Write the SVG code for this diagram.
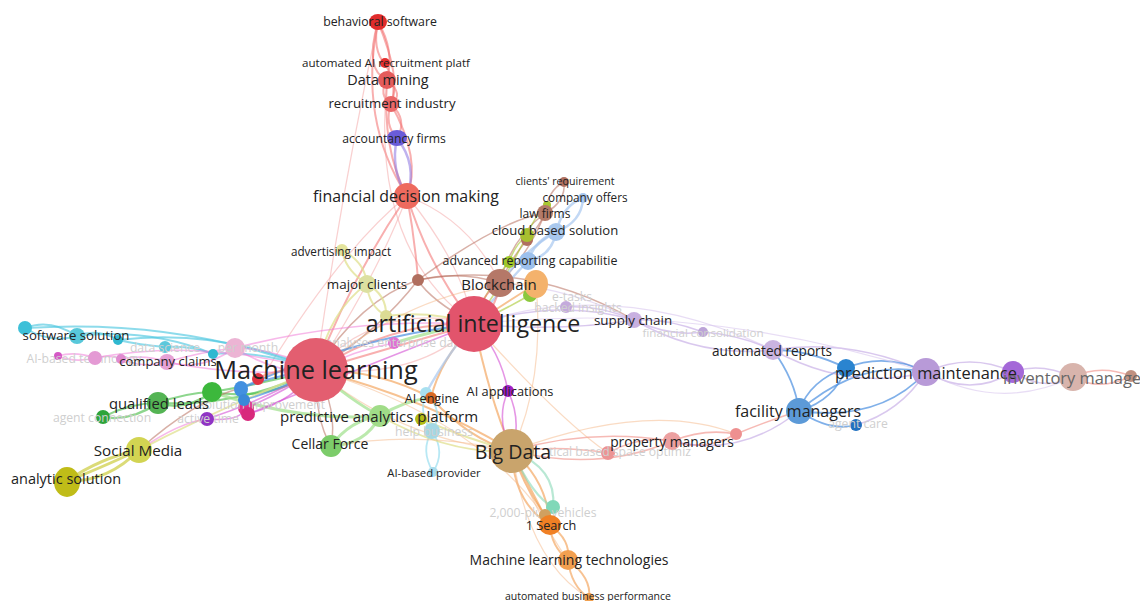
<svg xmlns="http://www.w3.org/2000/svg" width="1140" height="601" viewBox="0 0 1140 601">
  <style>
    text { font-family: "Open Sans", "Noto Sans", sans-serif; fill: #222; text-anchor: middle; dominant-baseline: central; }
    text.faint { fill: #cfcfcf; font-size: 12.2px; }
    text.grey { fill: #666; text-anchor: start; }
    #edges path { fill: none; stroke-linecap: round; }
    .red { stroke: #f26d6d; stroke-opacity: .55; stroke-width: 2; }
    .redf { stroke: #f4a2a2; stroke-opacity: .5; stroke-width: 1.2; }
    .pur { stroke: #8a72e0; stroke-opacity: .55; stroke-width: 2.5; }
    .brn { stroke: #b8705f; stroke-opacity: .55; stroke-width: 1.5; }
    .org { stroke: #f29a4a; stroke-opacity: .6; stroke-width: 2; }
    .orgf { stroke: #f6b888; stroke-opacity: .5; stroke-width: 1.2; }
    .lbl { stroke: #a8c8f0; stroke-opacity: .7; stroke-width: 2.5; }
    .ygr { stroke: #a8c830; stroke-opacity: .6; stroke-width: 1.6; }
    .lav { stroke: #b99ae0; stroke-opacity: .55; stroke-width: 1.5; }
    .lavf { stroke: #d8c6ee; stroke-opacity: .6; stroke-width: 1.2; }
    .blu { stroke: #4a8ee0; stroke-opacity: .7; stroke-width: 1.8; }
    .sal { stroke: #f08c84; stroke-opacity: .6; stroke-width: 1.6; }
    .cya { stroke: #50c8e0; stroke-opacity: .65; stroke-width: 2; }
    .pnk { stroke: #f080d8; stroke-opacity: .55; stroke-width: 1.6; }
    .grn { stroke: #50c050; stroke-opacity: .65; stroke-width: 2.2; }
    .lgr { stroke: #9ee08a; stroke-opacity: .7; stroke-width: 3; }
    .olv { stroke: #c8c830; stroke-opacity: .65; stroke-width: 3; }
    .pyl { stroke: #e0e090; stroke-opacity: .75; stroke-width: 2; }
    .mag { stroke: #d040d0; stroke-opacity: .55; stroke-width: 1.6; }
    .tea { stroke: #8ad8b8; stroke-opacity: .6; stroke-width: 2.2; }
    .lcy { stroke: #a0e0f0; stroke-opacity: .75; stroke-width: 1.8; }
  </style>

  <rect width="1140" height="601" fill="#ffffff"/>

  <!-- connectors -->
  <g id="edges">
    <!-- recruitment / data mining chain -->
    <path class="red" d="M378,22 Q395,50 387,80"/>
    <path class="red" d="M378,22 Q372,50 385,64"/>
    <path class="red" d="M378,22 Q402,80 391,104"/>
    <path class="red" d="M378,22 Q364,70 387,80"/>
    <path class="red" d="M385,64 Q398,85 391,104"/>
    <path class="red" d="M387,80 Q378,95 391,104"/>
    <path class="red" d="M387,80 Q405,95 391,104"/>
    <path class="red" d="M391,104 Q384,125 397,138"/>
    <path class="red" d="M391,104 Q408,120 397,138"/>
    <path class="red" d="M378,22 Q358,120 407,196"/>
    <path class="red" d="M387,80 Q382,150 407,196"/>
    <path class="red" d="M391,104 Q422,160 407,196"/>
    <path class="pur" d="M397,138 Q390,170 407,196"/>
    <path class="pur" d="M397,138 Q418,165 407,196"/>
    <path class="redf" d="M378,22 Q340,200 316,370"/>
    <path class="redf" d="M387,80 Q370,250 474,324"/>
    <path class="red" d="M407,196 Q350,280 316,370"/>
    <path class="red" d="M407,196 Q430,270 474,324"/>
    <path class="redf" d="M407,196 Q380,270 316,370"/>
    <path class="red" d="M407,196 Q415,240 418,280"/>
    <path class="redf" d="M407,196 Q470,220 500,283"/>
    <path class="redf" d="M407,196 Q340,250 262,378"/>
    <path class="redf" d="M407,196 Q460,260 474,324"/>

    <!-- core links -->
    <path class="red" d="M316,370 Q395,320 474,324" stroke-width="4"/>
    <path class="red" d="M316,370 Q400,345 474,324" stroke-width="3"/>
    <path class="redf" d="M316,370 Q380,300 474,324"/>
    <path class="redf" d="M316,370 Q420,380 474,324"/>
    <path class="brn" d="M316,370 Q360,300 418,280"/>
    <path class="brn" d="M474,324 Q430,300 418,280"/>
    <path class="brn" d="M418,280 Q460,270 500,283"/>
    <path class="brn" d="M418,280 Q530,260 634,320" stroke-opacity=".3"/>
    <path class="brn" d="M418,280 Q500,220 545,213"/>
    <path class="brn" d="M418,280 Q380,330 316,370"/>

    <path class="org" d="M316,370 Q430,400 512,451"/>
    <path class="orgf" d="M316,370 Q400,440 512,451"/>
    <path class="org" d="M474,324 Q490,400 512,451"/>
    <path class="mag" d="M474,324 Q500,350 508,391"/>
    <path class="mag" d="M508,391 Q495,420 512,451"/>
    <path class="mag" d="M508,391 Q522,420 512,451"/>
    <path class="org" d="M316,370 Q380,370 431,398"/>
    <path class="org" d="M474,324 Q440,360 431,398"/>
    <path class="org" d="M431,398 Q470,440 512,451"/>
    <path class="lcy" d="M426,393 Q418,415 432,431"/>
    <path class="lcy" d="M426,393 Q445,412 432,431"/>
    <path class="lcy" d="M432,431 Q420,450 433,472"/>
    <path class="lcy" d="M432,431 Q446,452 433,472"/>
    <path class="lbl" d="M426,393 Q450,350 474,324" stroke-width="1.5"/>
    <path class="lgr" d="M380,416 Q350,420 331,446"/>
    <path class="lgr" d="M380,416 Q365,445 331,446" stroke-width="2"/>
    <path class="lgr" d="M316,370 Q350,400 380,416" stroke-width="2"/>
    <path class="brn" d="M316,370 Q315,420 331,446" stroke="#c8a060"/>
    <path class="brn" d="M316,370 Q338,410 331,446" stroke="#c8a060"/>
    <path class="lgr" d="M380,416 Q405,400 431,398" stroke-width="1.5"/>
    <path class="pyl" d="M421,419 Q470,440 512,451" stroke="#c8c040"/>
    <path class="pyl" d="M380,416 Q450,455 512,451" stroke="#d0c860"/>
    <path class="orgf" d="M331,446 Q420,430 512,451"/>
    <path class="pyl" d="M316,370 Q330,310 367,284"/>
    <path class="pyl" d="M342,250 Q345,270 367,284"/>
    <path class="pyl" d="M342,250 Q365,262 367,284"/>
    <path class="pyl" d="M367,284 Q368,305 386,316"/>
    <path class="pyl" d="M367,284 Q387,295 386,316"/>
    <path class="pyl" d="M386,316 Q430,310 474,324"/>
    <path class="lgr" d="M394,343 Q435,330 474,324" stroke-width="1.5"/>
    <path class="pnk" d="M316,370 Q355,350 394,343"/>

    <!-- property / facility -->
    <path class="sal" d="M512,451 Q590,428 672,441"/>
    <path class="sal" d="M512,451 Q600,472 672,441"/>
    <path class="sal" d="M512,451 Q560,445 608,453"/>
    <path class="sal" d="M608,453 Q640,435 672,441"/>
    <path class="sal" d="M672,441 Q705,428 736,434"/>
    <path class="sal" d="M672,441 Q705,452 736,434"/>
    <path class="sal" d="M736,434 Q770,420 799,411"/>
    <path class="lav" d="M672,441 Q740,458 799,411"/>
    <path class="orgf" d="M512,451 Q650,400 736,434"/>
    <path class="orgf" d="M474,324 Q560,420 608,453"/>

    <path class="blu" d="M799,411 Q810,380 846,368"/>
    <path class="blu" d="M799,411 Q835,400 846,368"/>
    <path class="blu" d="M799,411 Q860,358 926,372"/>
    <path class="blu" d="M799,411 Q880,422 926,372"/>
    <path class="blu" d="M799,411 Q830,432 856,425"/>
    <path class="blu" d="M773,350 Q795,380 799,411" stroke-opacity=".35"/>
    <path class="blu" d="M773,350 Q810,350 846,368"/>
    <path class="lav" d="M773,350 Q850,338 926,372"/>
    <path class="lav" d="M773,350 Q850,392 926,372"/>
    <path class="blu" d="M846,368 Q885,352 926,372"/>
    <path class="lav" d="M926,372 Q970,352 1013,372" stroke="#b070e0" stroke-width="3"/>
    <path class="lav" d="M926,372 Q970,398 1013,372" stroke="#b070e0" stroke-width="3"/>
    <path class="lav" d="M1013,372 Q1040,362 1073,377" stroke="#c890c8" stroke-width="2.5"/>
    <path class="lav" d="M1013,372 Q1043,392 1073,377" stroke="#c890c8"/>
    <path class="sal" d="M1073,377 Q1100,364 1131,376" stroke="#e0a8a0"/>
    <path class="sal" d="M1073,377 Q1100,392 1131,376" stroke="#e0a8a0"/>
    <path class="lavf" d="M926,372 Q1000,412 1073,377"/>
    <path class="lav" d="M856,425 Q900,412 926,372" stroke="#b0a8f0"/>

    <!-- supply chain -->
    <path class="lav" d="M474,324 Q560,298 634,320"/>
    <path class="lav" d="M474,324 Q560,332 634,320"/>
    <path class="lav" d="M566,307 Q600,305 634,320"/>
    <path class="lav" d="M634,320 Q670,337 703,332"/>
    <path class="lav" d="M634,320 Q665,318 703,332"/>
    <path class="lav" d="M703,332 Q740,335 773,350"/>
    <path class="lav" d="M634,320 Q700,358 773,350"/>
    <path class="lavf" d="M474,324 Q620,276 773,350"/>
    <path class="lavf" d="M500,283 Q570,288 634,320"/>
    <path class="lavf" d="M474,324 Q700,300 926,372"/>

    <!-- blockchain cluster -->
    <path class="brn" d="M500,283 Q510,240 545,213"/>
    <path class="brn" d="M500,283 Q530,252 545,213"/>
    <path class="brn" d="M545,213 Q548,190 564,182"/>
    <path class="brn" d="M545,213 Q566,202 564,182"/>
    <path class="brn" d="M500,283 Q510,260 527,240"/>
    <path class="brn" d="M527,240 Q540,225 545,213"/>
    <path class="ygr" d="M509,262 Q515,245 527,235"/>
    <path class="ygr" d="M527,235 Q535,215 547,205"/>
    <path class="ygr" d="M474,324 Q485,290 509,262"/>
    <path class="ygr" d="M474,324 Q505,280 527,235"/>
    <path class="lbl" d="M528,261 Q535,240 556,232"/>
    <path class="lbl" d="M528,261 Q552,256 556,232"/>
    <path class="lbl" d="M556,232 Q563,205 583,198"/>
    <path class="lbl" d="M556,232 Q582,222 583,198"/>
    <path class="lbl" d="M474,324 Q500,290 528,261"/>
    <path class="lbl" d="M500,283 Q525,250 556,232" stroke-width="1.5"/>
    <path class="red" d="M474,324 Q480,295 500,283"/>
    <path class="red" d="M474,324 Q496,312 500,283"/>
    <path class="org" d="M474,324 Q510,300 536,284"/>
    <path class="orgf" d="M536,284 Q545,380 512,451"/>
    <path class="ygr" d="M474,324 Q500,312 530,295" stroke="#8cc840"/>
    <path class="orgf" d="M316,370 Q430,280 536,284"/>

    <!-- left clusters -->
    <path class="cya" d="M25,328 Q50,318 77,336"/>
    <path class="cya" d="M25,328 Q50,344 77,336"/>
    <path class="cya" d="M77,336 Q98,328 118,340"/>
    <path class="cya" d="M118,340 Q140,345 165,347"/>
    <path class="cya" d="M77,336 Q150,328 213,354" stroke-width="1.2"/>
    <path class="cya" d="M165,347 Q190,345 213,354"/>
    <path class="cya" d="M213,354 Q260,350 316,370"/>
    <path class="cya" d="M118,340 Q220,328 316,370" stroke-opacity=".35" stroke-width="1.2"/>
    <path class="cya" d="M25,328 Q180,318 316,370" stroke-opacity=".3" stroke-width="1.2"/>

    <path class="pnk" d="M58,356 Q75,351 95,358"/>
    <path class="pnk" d="M58,356 Q75,363 95,358"/>
    <path class="pnk" d="M95,358 Q108,354 121,359"/>
    <path class="pnk" d="M121,359 Q145,354 167,362"/>
    <path class="pnk" d="M121,359 Q145,369 167,362"/>
    <path class="pnk" d="M167,362 Q200,352 235,348"/>
    <path class="pnk" d="M167,362 Q200,372 235,348"/>
    <path class="pnk" d="M235,348 Q275,348 316,370" stroke-width="3"/>
    <path class="pnk" d="M235,348 Q280,376 316,370"/>
    <path class="pnk" d="M95,358 Q200,338 316,370" stroke-opacity=".35"/>
    <path class="pnk" d="M167,362 Q240,377 316,370"/>
    <path class="pnk" d="M235,348 Q350,318 474,324" stroke-opacity=".3"/>

    <path class="grn" d="M103,417 Q130,403 158,403"/>
    <path class="grn" d="M103,417 Q130,422 158,403"/>
    <path class="grn" d="M158,403 Q185,393 212,392"/>
    <path class="grn" d="M158,403 Q185,412 212,392"/>
    <path class="grn" d="M212,392 Q265,383 316,370"/>
    <path class="grn" d="M212,392 Q270,402 316,370"/>
    <path class="grn" d="M158,403 Q240,407 316,370" stroke-opacity=".35" stroke-width="1.2"/>
    <path class="lgr" d="M212,392 Q300,422 380,416" stroke-width="1.5"/>

    <path class="olv" d="M139,450 Q100,458 67,481" stroke-width="4"/>
    <path class="olv" d="M139,450 Q108,482 67,481"/>
    <path class="olv" d="M139,450 Q96,470 67,481" stroke-width="2"/>
    <path class="pyl" d="M139,450 Q220,408 316,370" stroke="#d8d070"/>
    <path class="brn" d="M139,450 Q195,400 241,388" stroke="#c0a080"/>
    <path class="pnk" d="M139,450 Q180,422 207,419" stroke="#c890c0"/>
    <path class="mag" d="M207,419 Q260,402 316,370" stroke="#9030c0"/>
    <path class="mag" d="M207,419 Q240,422 246,408"/>
    <path class="blu" d="M241,388 Q280,374 316,370"/>
    <path class="blu" d="M244,400 Q280,390 316,370"/>
    <path class="blu" d="M241,388 Q350,338 474,324" stroke-opacity=".3" stroke-width="1.2"/>
    <path class="mag" d="M246,408 Q280,394 316,370" stroke="#e03080"/>
    <path class="mag" d="M248,414 Q292,402 316,370" stroke="#e03080"/>
    <path class="mag" d="M248,414 Q380,360 474,324" stroke="#e03080" stroke-opacity=".35"/>
    <path class="red" d="M258,378 Q290,365 316,370"/>

    <!-- big data downwards -->
    <path class="org" d="M512,451 Q530,490 550,525"/>
    <path class="org" d="M512,451 Q547,480 550,525"/>
    <path class="org" d="M512,451 Q513,502 550,525"/>
    <path class="tea" d="M512,451 Q557,468 553,507"/>
    <path class="tea" d="M512,451 Q533,497 553,507"/>
    <path class="org" d="M512,451 Q524,487 545,515" stroke="#d0a060"/>
    <path class="org" d="M550,525 Q551,546 568,560"/>
    <path class="org" d="M550,525 Q571,540 568,560"/>
    <path class="org" d="M568,560 Q571,586 589,598"/>
    <path class="org" d="M568,560 Q592,578 589,598"/>
    <path class="orgf" d="M512,451 Q540,522 568,560"/>
    <path class="orgf" d="M512,451 Q528,562 589,598"/>
    <path class="orgf" d="M316,370 Q482,420 550,525"/>
  </g>

  <!-- nodes with faint labels -->
  <g id="n-data-science"><circle cx="165" cy="347" r="6" fill="#5cc8dc"/><text class="faint" x="165" y="347">data science</text></g>
  <g id="n-per-month"><circle cx="235" cy="348" r="10" fill="#ecb4d4"/><text class="faint" x="248" y="347">per month</text></g>
  <g id="n-ai-based-technology"><circle cx="58" cy="356" r="4" fill="#d458c4"/><text class="faint" x="84" y="358">AI-based technology</text></g>
  <g id="n-agent-connection"><circle cx="103" cy="417" r="7" fill="#2ea43a"/><text class="faint" x="102" y="417">agent connection</text></g>
  <g id="n-active-time"><circle cx="207" cy="419" r="7" fill="#9034c4"/><text class="faint" x="208" y="418">active time</text></g>
  <g id="n-solution-improvement"><circle cx="246" cy="408" r="8" fill="#e0308a"/><text class="faint" x="262" y="404">solution improvement</text></g>
  <g id="n-analyses-enterprise-data"><circle cx="394" cy="343" r="6" fill="#e070d4"/><text class="faint" x="395" y="342">analyses enterprise data</text></g>
  <g id="n-help-business"><circle cx="432" cy="431" r="8" fill="#a4d8e4"/><text class="faint" x="434" y="431">help business</text></g>
  <g id="n-2000-plus-vehicles"><circle cx="553" cy="507" r="7" fill="#80d8b8"/><text class="faint" x="543" y="512">2,000-plus vehicles</text></g>
  <g id="n-space-optimiz"><circle cx="608" cy="453" r="7" fill="#ec9494"/><text class="faint" x="549" y="451" style="text-anchor:start">tical based space optimiz</text></g>
  <g id="n-financial-consolidation"><circle cx="703" cy="332" r="5" fill="#bca4d8"/><text class="faint" x="703" y="332" style="font-size:11.6px">financial consolidation</text></g>
  <g id="n-agent-care"><circle cx="856" cy="425" r="6" fill="#2070c0"/><text class="faint" x="858" y="423">agent care</text></g>
  <g id="n-tasks"><circle cx="530" cy="295" r="7" fill="#8cc83c"/><text class="faint" x="572" y="296">e-tasks</text></g>
  <g id="n-backed-insights"><circle cx="566" cy="307" r="6" fill="#c4aadc"/><text class="faint" x="578" y="307">backed insights</text></g>

  <!-- unlabelled nodes -->
  <g id="n-brown-hub"><circle cx="418" cy="280" r="6" fill="#b06e5e"/></g>
  <g id="n-brown-mid"><circle cx="527" cy="240" r="6" fill="#b07060"/></g>
  <g id="n-yg-1"><circle cx="547" cy="205" r="4" fill="#a8c830"/></g>
  <g id="n-yg-2"><circle cx="527" cy="235" r="7" fill="#a8c030"/></g>
  <g id="n-yg-3"><circle cx="509" cy="262" r="6" fill="#a0c828"/></g>
  <g id="n-orange-top"><ellipse cx="536" cy="284" rx="12" ry="14" fill="#f4b26c"/></g>
  <g id="n-pale-yellow"><circle cx="386" cy="316" r="6" fill="#dcdc94"/></g>
  <g id="n-cyan-1"><circle cx="25" cy="328" r="7" fill="#3ec0d8"/></g>
  <g id="n-cyan-2"><circle cx="118" cy="340" r="5" fill="#30b8d0"/></g>
  <g id="n-cyan-3"><circle cx="213" cy="354" r="5" fill="#30b8d0"/></g>
  <g id="n-pink-1"><circle cx="95" cy="358" r="7" fill="#e49ad4"/></g>
  <g id="n-pink-2"><circle cx="121" cy="359" r="5" fill="#e08ad0"/></g>
  <g id="n-green-hub"><circle cx="212" cy="392" r="10" fill="#3cb83c"/></g>
  <g id="n-blue-1"><ellipse cx="241" cy="389" rx="7" ry="8" fill="#4290e0"/></g>
  <g id="n-blue-2"><circle cx="244" cy="400" r="6" fill="#3a88d8"/></g>
  <g id="n-magenta"><circle cx="248" cy="414" r="7" fill="#d8287c"/></g>
  <g id="n-red-1"><circle cx="258" cy="379" r="6" fill="#e03444"/></g>
  <g id="n-ai-engine-cyan"><circle cx="426" cy="393" r="6" fill="#a8e0f0"/></g>
  <g id="n-olive"><circle cx="421" cy="419" r="6" fill="#b4bc14"/></g>
  <g id="n-salmon-2"><circle cx="736" cy="434" r="6" fill="#ee9090"/></g>
  <g id="n-blue-pm"><circle cx="846" cy="368" r="9" fill="#2a84d0"/></g>
  <g id="n-purple-pm"><circle cx="1013" cy="372" r="11" fill="#a468d8"/></g>
  <g id="n-rose"><circle cx="1073" cy="377" r="14" fill="#d8b4ac"/></g>
  <g id="n-brown-end"><circle cx="1131" cy="376" r="6" fill="#c09080"/></g>
  <g id="n-tan-small"><circle cx="545" cy="515" r="6" fill="#d0a060"/></g>

  <!-- labelled nodes -->
  <g id="n-behavioral-software"><ellipse cx="378" cy="22" rx="9" ry="8" fill="#e02c2c"/><text x="380" y="21" font-size="12.3">behavioral software</text></g>
  <g id="n-automated-ai-recruitment"><circle cx="385" cy="63" r="5" fill="#e43030"/><text x="386" y="62" font-size="11.6">automated AI recruitment platf</text></g>
  <g id="n-data-mining"><circle cx="387" cy="80" r="9" fill="#e45c5c"/><text x="388" y="79" font-size="14.4">Data mining</text></g>
  <g id="n-recruitment-industry"><circle cx="391" cy="104" r="8" fill="#ea6868"/><text x="392" y="103" font-size="13.2">recruitment industry</text></g>
  <g id="n-accountancy-firms"><ellipse cx="397" cy="138" rx="10" ry="8" fill="#6a5cd8"/><text x="394" y="138" font-size="12.2">accountancy firms</text></g>
  <g id="n-financial-decision-making"><circle cx="407" cy="196" r="13" fill="#ee6a5e"/><text x="406" y="196" font-size="15.9">financial decision making</text></g>
  <g id="n-clients-requirement"><circle cx="564" cy="182" r="5" fill="#b07060"/><text x="565" y="181" font-size="10.6">clients' requirement</text></g>
  <g id="n-company-offers"><circle cx="583" cy="198" r="5" fill="#a8c8f0"/><text x="585" y="197" font-size="11.7">company offers</text></g>
  <g id="n-law-firms"><circle cx="545" cy="213" r="8" fill="#b47a68"/><text x="545" y="213" font-size="12">law firms</text></g>
  <g id="n-cloud-based-solution"><circle cx="556" cy="232" r="9" fill="#a8c8ee"/><text x="555" y="230" font-size="13.1">cloud based solution</text></g>
  <g id="n-advanced-reporting"><circle cx="528" cy="261" r="9" fill="#9cc0ec"/><text x="530" y="260" font-size="12.4">advanced reporting capabilitie</text></g>
  <g id="n-advertising-impact"><circle cx="342" cy="250" r="6" fill="#e4e49c"/><text x="341" y="251" font-size="11.7">advertising impact</text></g>
  <g id="n-major-clients"><circle cx="367" cy="284" r="9" fill="#dce0a0"/><text x="367" y="284" font-size="13.4">major clients</text></g>
  <g id="n-blockchain"><circle cx="500" cy="283" r="14" fill="#b57868"/><text x="499" y="284" font-size="15">Blockchain</text></g>
  <g id="n-supply-chain"><circle cx="634" cy="320" r="8" fill="#c8b0e0"/><text x="633" y="320" font-size="13.4">supply chain</text></g>
  <g id="n-automated-reports"><circle cx="773" cy="350" r="10" fill="#cab4e0"/><text x="772" y="350" font-size="13.6">automated reports</text></g>
  <g id="n-prediction-maintenance"><circle cx="926" cy="372" r="14" fill="#b89ad8"/><text x="926" y="372" font-size="16.4">prediction maintenance</text></g>
  <g id="n-inventory-management"><text class="grey" x="1003" y="377" font-size="16.4">inventory managem</text></g>
  <g id="n-facility-managers"><circle cx="799" cy="411" r="13" fill="#5c9ad8"/><text x="798" y="411" font-size="16">facility managers</text></g>
  <g id="n-property-managers"><circle cx="672" cy="441" r="9" fill="#eca0a0"/><text x="672" y="441" font-size="13.8">property managers</text></g>
  <g id="n-software-solution"><circle cx="77" cy="336" r="8" fill="#58c8da"/><text x="76" y="335" font-size="13.2">software solution</text></g>
  <g id="n-company-claims"><circle cx="167" cy="362" r="8" fill="#e6a2d6"/><text x="168" y="361" font-size="13">company claims</text></g>
  <g id="n-qualified-leads"><circle cx="158" cy="403" r="11" fill="#54b454"/><text x="159" y="403" font-size="14.8">qualified leads</text></g>
  <g id="n-social-media"><circle cx="139" cy="450" r="13" fill="#d2d452"/><text x="138" y="450" font-size="15.2">Social Media</text></g>
  <g id="n-analytic-solution"><ellipse cx="67" cy="482" rx="13" ry="15" fill="#c0bc18"/><text x="66" y="478" font-size="14.5">analytic solution</text></g>
  <g id="n-cellar-force"><circle cx="331" cy="446" r="11" fill="#7ccc6a"/><text x="330" y="443" font-size="14">Cellar Force</text></g>
  <g id="n-predictive-analytics-platform"><circle cx="380" cy="416" r="11" fill="#a0dc88"/><text x="379" y="416" font-size="15">predictive analytics platform</text></g>
  <g id="n-ai-engine"><circle cx="431" cy="398" r="6" fill="#d86a24"/><text x="432" y="398" font-size="12.6">AI engine</text></g>
  <g id="n-ai-based-provider"><circle cx="433" cy="472" r="5" fill="#a8dcec"/><text x="434" y="472" font-size="11.3">AI-based provider</text></g>
  <g id="n-ai-applications"><circle cx="508" cy="391" r="6" fill="#a020c4"/><text x="510" y="391" font-size="12.8">AI applications</text></g>
  <g id="n-big-data"><circle cx="512" cy="451" r="22" fill="#c9a46c"/><text x="513" y="451" font-size="19.6">Big Data</text></g>
  <g id="n-1-search"><ellipse cx="550" cy="525" rx="11" ry="10" fill="#f08024"/><text x="551" y="525" font-size="12.7">1 Search</text></g>
  <g id="n-ml-technologies"><circle cx="568" cy="560" r="10" fill="#f2a050"/><text x="569" y="559" font-size="14">Machine learning technologies</text></g>
  <g id="n-automated-business-performance"><circle cx="589" cy="598" r="5" fill="#f0a050"/><text x="588" y="596" font-size="10.5">automated business performance</text></g>
  <g id="n-artificial-intelligence"><circle cx="474" cy="324" r="28" fill="#e2546c"/><text x="473" y="323" font-size="23.2">artificial intelligence</text></g>
  <g id="n-machine-learning"><circle cx="316" cy="370" r="32" fill="#e35e70"/><text x="316" y="369" font-size="25.3">Machine learning</text></g>
</svg>
